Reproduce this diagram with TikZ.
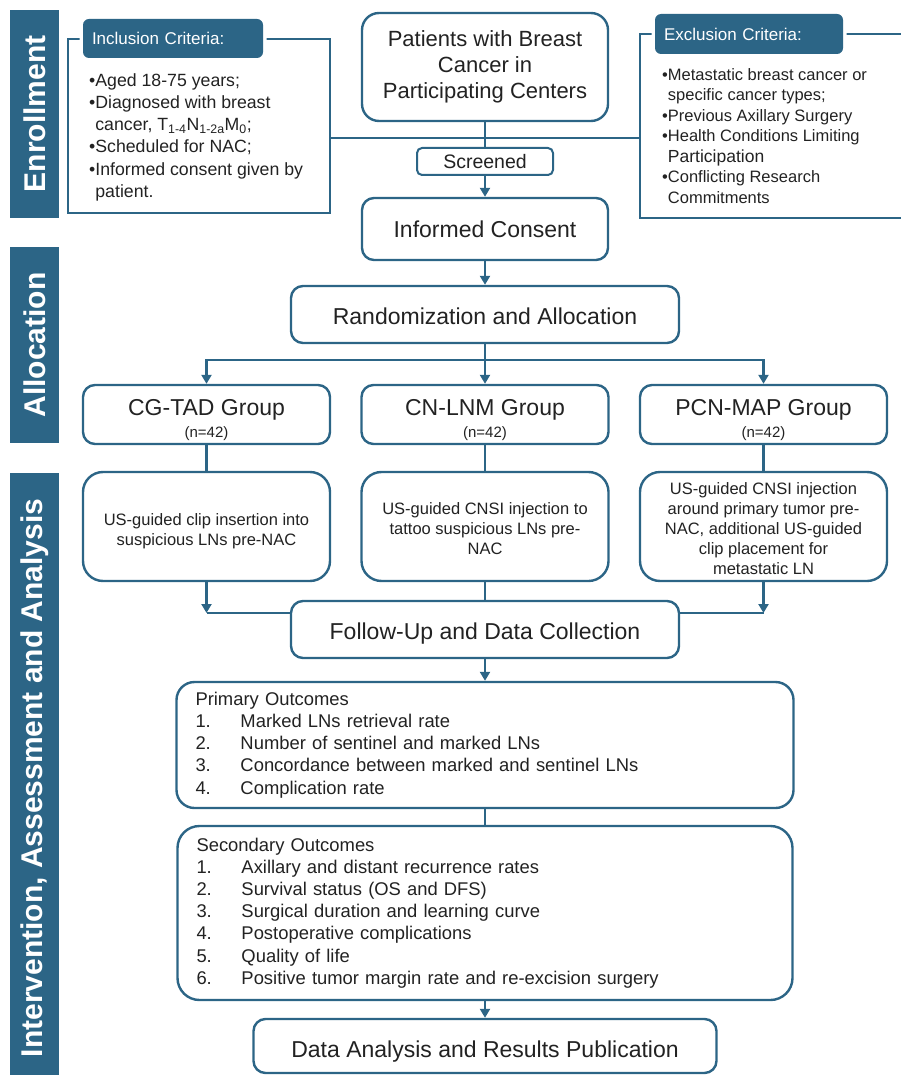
\documentclass[tikz,border=0pt]{standalone}
\usepackage{fontspec}
\setmainfont{Liberation Sans}
\usepackage{tikz}
\usetikzlibrary{arrows.meta}
\usetikzlibrary{positioning,calc}
\definecolor{trialblue}{HTML}{2C6586}
\definecolor{ink}{HTML}{222222}
\tikzset{
    phase/.style={
        fill=trialblue,
        text=white,
        rotate=90,
        minimum height=49pt,
        inner sep=0pt,
        font=\fontsize{30}{32}\selectfont\bfseries
    },
    stage/.style={
        draw=trialblue,
        line width=2.4pt,
        rounded corners=12pt,
        fill=white,
        text=ink,
        align=center,
        inner sep=0pt,
        font=\fontsize{23}{26}\selectfont
    },
    group/.style={
        stage,
        minimum width=247pt,
        minimum height=59pt,
        font=\fontsize{23}{22}\selectfont
    },
    action/.style={
        stage,
        rounded corners=20pt,
        minimum width=247pt,
        minimum height=109pt,
        font=\fontsize{16.5}{20}\selectfont
    },
    header/.style={
        fill=trialblue,
        text=white,
        rounded corners=6pt,
        preaction={draw=white, line width=7pt},
        align=left,
        inner xsep=9pt,
        inner ysep=0pt,
        font=\fontsize{17}{20}\selectfont
    },
    frame/.style={
        draw=trialblue,
        line width=2.4pt
    },
    crit/.style={
        text=ink,
        align=left,
        inner sep=0pt
    },
    line/.style={
        draw=trialblue,
        line width=2.4pt
    },
    arr/.style={
        draw=trialblue,
        line width=2.4pt,
        -{Triangle[length=9pt, width=10pt]}
    }
}
\newcommand{\grpsize}[1]{{\fontsize{15}{16}\selectfont #1}}

\begin{document}
\begin{tikzpicture}[x=1pt, y=-1pt]
    \useasboundingbox (0,0) rectangle (901,1075);

    % Phase bars
    \node[phase, minimum width=208pt] (enroll) at (34.5,114) {Enrollment};
    \node[phase, minimum width=196pt] (alloc) at (34.5,345) {Allocation};
    \node[phase, minimum width=610pt] (assess) at (34.5,778) {Intervention, Assessment and Analysis};

    % Criteria
    \node[frame, minimum width=262pt, minimum height=174pt] (incbox) at (199,126) {};
    \draw[frame] (901,34) -| (640,218) -- (901,218);
    \coordinate (exjoin) at (640,138);
    \coordinate (jn) at (485,138);
    \draw[line] (incbox.east |- jn) -- (exjoin);
    \node[header, text width=162pt, minimum height=39pt] (inchead) at (173,38.5) {Inclusion Criteria:};
    \node[header, text width=170pt, minimum height=40pt] (exhead) at (749,34) {Exclusion Criteria:};
    \node[crit, anchor=north west, font=\fontsize{17.7}{22.3}\selectfont] (inclist) at (89,73) {%
        •Aged 18-75 years;\\
        •Diagnosed with breast\\
        \phantom{•}cancer, T\textsubscript{1-4}N\textsubscript{1-2a}M\textsubscript{0};\\
        •Scheduled for NAC;\\
        •Informed consent given by\\
        \phantom{•}patient.};
    \node[crit, anchor=north west, font=\fontsize{16.5}{20.5}\selectfont] (exlist) at (662,68) {%
        •Metastatic breast cancer or\\
        \phantom{•}specific cancer types;\\
        •Previous Axillary Surgery\\
        •Health Conditions Limiting\\
        \phantom{•}{\fontsize{17.5}{20}\selectfont Participation}\\
        •Conflicting Research\\
        \phantom{•}Commitments};

    % Main flow
    \node[stage, rounded corners=17pt, minimum width=246pt, minimum height=108pt,
        font=\fontsize{22}{26}\selectfont] (pat) at (485,67) {Patients with Breast\\Cancer in\\Participating Centers};
    \node[stage, rounded corners=5pt, line width=2pt, minimum width=136pt, minimum height=27pt,
        font=\fontsize{19.5}{22}\selectfont] (scr) at (485,161.5) {Screened};
    \node[stage, minimum width=246pt, minimum height=62pt] (cons) at (485,229) {Informed Consent};
    \node[stage, minimum width=388pt, minimum height=57pt, text height=20pt] (rand) at (485,314.5) {Randomization and Allocation};
    \coordinate (split) at (485,360);

    % Groups
    \node[group] (grpA) at (206.5,414.5) {\rule{0pt}{27pt}CG-TAD Group\\\grpsize{(n=42)}};
    \node[group] (grpB) at (485,414.5) {\rule{0pt}{27pt}CN-LNM Group\\\grpsize{(n=42)}};
    \node[group] (grpC) at (763.5,414.5) {\rule{0pt}{27pt}PCN-MAP Group\\\grpsize{(n=42)}};

    % Interventions
    \node[action] (intA) at (206.5,526.5)
        {\rule{0pt}{21pt}US-guided clip insertion into\\suspicious LNs pre-NAC};
    \node[action] (intB) at (485,526.5)
        {\rule{0pt}{16pt}US-guided CNSI injection to\\tattoo suspicious LNs pre-\\NAC};
    \node[action] (intC) at (763.5,526.5)
        {\rule{0pt}{16pt}US-guided CNSI injection\\around primary tumor pre-\\NAC, additional US-guided\\clip placement for\\metastatic LN};

    \node[stage, minimum width=388pt, minimum height=57pt, text height=24pt] (fup) at (485,629.5) {Follow-Up and Data Collection};
    \coordinate (jA) at (206.5,613);
    \coordinate (jC) at (763.5,613);

    % Outcomes
    \node[stage, rounded corners=18pt, minimum width=617pt, minimum height=126pt, align=left,
        text width=579pt, font=\fontsize{18.4}{22.2}\selectfont] (prim) at (485,745)
        {Primary Outcomes\\
        \makebox[45pt][l]{1.}Marked LNs retrieval rate\\
        \makebox[45pt][l]{2.}Number of sentinel and marked LNs\\
        \makebox[45pt][l]{3.}Concordance between marked and sentinel LNs\\
        \makebox[45pt][l]{4.}Complication rate};
    \node[stage, rounded corners=22pt, minimum width=615pt, minimum height=174pt, align=left,
        text width=577pt, font=\fontsize{18.4}{22.2}\selectfont] (sec) at (485,913)
        {Secondary Outcomes\\
        \makebox[45pt][l]{1.}Axillary and distant recurrence rates\\
        \makebox[45pt][l]{2.}Survival status (OS and DFS)\\
        \makebox[45pt][l]{3.}Surgical duration and learning curve\\
        \makebox[45pt][l]{4.}Postoperative complications\\
        \makebox[45pt][l]{5.}Quality of life\\
        \makebox[45pt][l]{6.}Positive tumor margin rate and re-excision surgery};
    \node[stage, minimum width=463pt, minimum height=54pt, text height=28pt] (data) at (485,1046) {Data Analysis and Results Publication};

    % Connectors
    \draw[line] (pat) -- (scr);
    \draw[arr] (scr) -- (cons);
    \draw[arr] (cons) -- (rand);
    \draw[line] (rand) -- (split);
    \draw[arr] (split) -- (grpB);
    \draw[arr] (split) -| (grpA);
    \draw[arr] (split) -| (grpC);
    \draw[line] (grpA) -- (intA);
    \draw[line] (grpB) -- (intB);
    \draw[line] (grpC) -- (intC);
    \draw[arr] (intA) -- (jA);
    \draw[arr] (intC) -- (jC);
    \draw[line] (jA) -- (jA -| fup.west);
    \draw[line] (jC) -- (jC -| fup.east);
    \draw[line] (intB) -- (fup);
    \draw[arr] (fup) -- (prim);
    \draw[line] (prim) -- (sec);
    \draw[arr] (sec) -- (data);
\end{tikzpicture}
\end{document}
